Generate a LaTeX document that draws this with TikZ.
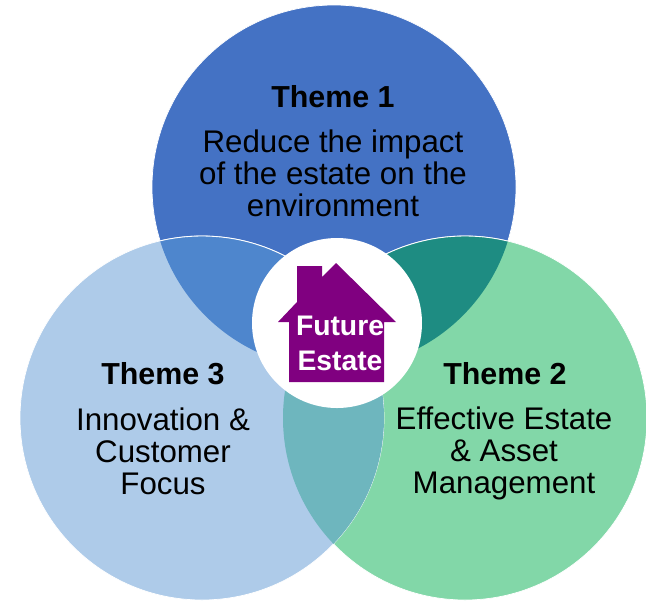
\documentclass[tikz,border=0pt]{standalone}
\usepackage{fontspec}
\setmainfont{Liberation Sans}
\definecolor{themeblue}{RGB}{68,114,196}
\definecolor{themelight}{RGB}{174,203,233}
\definecolor{themegreen}{RGB}{130,215,168}
\definecolor{overlapa}{RGB}{78,134,205}
\definecolor{overlapb}{RGB}{30,140,130}
\definecolor{overlapc}{RGB}{110,182,190}
\definecolor{housepurple}{RGB}{128,0,128}
\tikzset{
  venn/.style={draw=white, line width=0.4pt},
  title/.style={font=\fontsize{17.3}{19}\selectfont\bfseries, inner sep=0pt},
  body/.style={font=\fontsize{17.8}{18.2}\selectfont, align=center, inner sep=0pt},
  housetext/.style={font=\fontsize{16.1}{20}\selectfont\bfseries, text=white, align=center, inner sep=0pt}
}
\begin{document}
\begin{tikzpicture}[x=0.02cm, y=-0.02cm]
      \useasboundingbox (0,0) rectangle (646,600);
      \fill [venn, fill=themeblue] (334,187) circle (182);
      \fill [venn, fill=themegreen] (465,418) circle (182);
      \fill [venn, fill=themelight] (202,418) circle (182);
      % overlaps
      \begin{scope}
      \clip (334,187) circle (182);
      \fill [overlapa] (202,418) circle (182);
      \fill [overlapb] (465,418) circle (182);
      \end{scope}
      \begin{scope}
      \clip (202,418) circle (182);
      \fill [overlapc] (465,418) circle (182);
      \end{scope}
      \begin{scope}
      \clip (334,187) circle (182);
      \draw [white, line width=0.5pt] (202,418) circle (182);
      \draw [white, line width=0.5pt] (465,418) circle (182);
      \end{scope}
      % centre
      \fill [white] (337,323) circle (85);
      \fill [housepurple] (297,266) -- (322,266) -- (322,277) -- (336,263) -- (396,322)
        -- (384,322) -- (384,382) -- (289,382) -- (289,322) -- (278,322) -- (297,302) -- cycle;
      \node [housetext] (house) at (340,343) {Future\\Estate};
      \node [title] (themea) at (333,97) {Theme 1};
      \node [body] (bodya) at (333,173) {Reduce the impact\\of the estate on the\\environment};
      \node [title] (themeb) at (505,374) {Theme 2};
      \node [body] (bodyb) at (504,453) {Effective Estate\\\& Asset\\Management};
      \node [title] (themec) at (163,374) {Theme 3};
      \node [body] (bodyc) at (163,451) {Innovation \&\\Customer\\Focus};
    \end{tikzpicture}
\end{document}
